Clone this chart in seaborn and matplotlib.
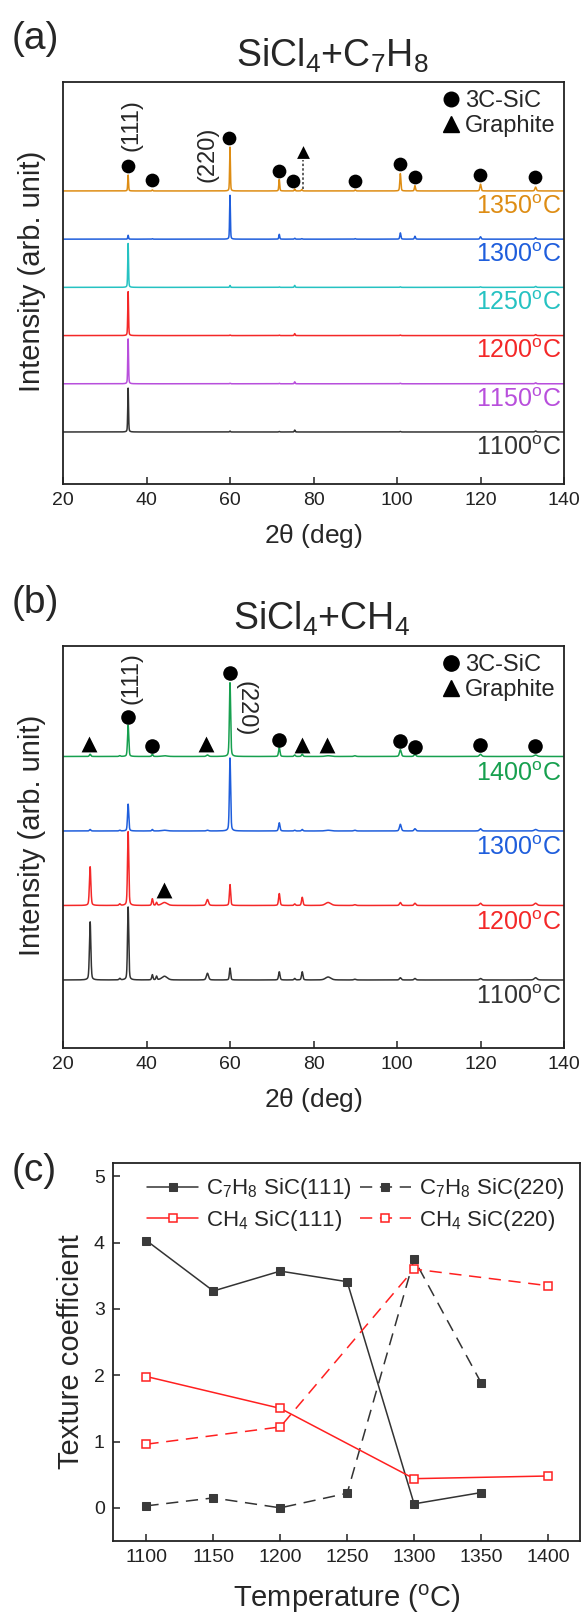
import numpy as np
import matplotlib
matplotlib.use("Agg")
import matplotlib.pyplot as plt
import seaborn as sns
from matplotlib.lines import Line2D

sns.set_theme(style="ticks")
plt.rcParams["font.family"] = ["Liberation Sans", "DejaVu Sans"]
plt.rcParams["mathtext.fontset"] = "custom"
plt.rcParams["mathtext.rm"] = "Liberation Sans"
plt.rcParams["mathtext.it"] = "Liberation Sans"
plt.rcParams["mathtext.bf"] = "Liberation Sans:bold"
plt.rcParams["mathtext.default"] = "regular"

# ---------------- data ----------------
# Panel (a): SiCl4 + C7H8, peak list (2theta, deg) and heights per temperature
temps_a = ["1100", "1150", "1200", "1250", "1300", "1350"]
colors_a = ["#333333", "#b84fdc", "#f42828", "#26c2c2", "#1f5edc", "#de8d14"]
peaks_a_pos = [35.6, 41.4, 60.0, 71.8, 75.5, 77.2, 90.0, 100.8, 104.3, 120.0, 133.2]
peaks_a_wid = [0.22, 0.25, 0.22, 0.25, 0.25, 0.3, 0.3, 0.3, 0.3, 0.35, 0.4]
heights_1100_a = [0.91, 0.00, 0.02, 0.01, 0.04, 0.00, 0.00, 0.01, 0.00, 0.00, 0.02]
heights_1150_a = [0.93, 0.00, 0.01, 0.01, 0.04, 0.00, 0.00, 0.01, 0.00, 0.00, 0.02]
heights_1200_a = [0.91, 0.00, 0.01, 0.01, 0.04, 0.00, 0.00, 0.01, 0.00, 0.00, 0.02]
heights_1250_a = [0.91, 0.00, 0.04, 0.01, 0.04, 0.00, 0.00, 0.01, 0.00, 0.01, 0.02]
heights_1300_a = [0.08, 0.01, 0.91, 0.10, 0.02, 0.01, 0.01, 0.13, 0.06, 0.05, 0.03]
heights_1350_a = [0.33, 0.02, 0.91, 0.24, 0.04, 0.03, 0.02, 0.36, 0.11, 0.14, 0.08]
heights_a = [heights_1100_a, heights_1150_a, heights_1200_a,
             heights_1250_a, heights_1300_a, heights_1350_a]
sic_a_x = [35.6, 41.3, 59.8, 71.7, 75.2, 89.9, 100.8, 104.4, 119.8, 133.1]
sic_a_y = [5.52, 5.23, 6.10, 5.41, 5.21, 5.21, 5.56, 5.29, 5.33, 5.29]
graphite_a_x = [77.4]
graphite_a_y = [5.80]
graphite_a_guide_y = [5.05, 5.64]

# Panel (b): SiCl4 + CH4
temps_b = ["1100", "1200", "1300", "1400"]
colors_b = ["#333333", "#f42828", "#1f5edc", "#17a04f"]
peaks_b_pos = [26.5, 33.6, 35.6, 41.4, 42.4, 44.3, 54.6, 60.0, 71.8, 75.5,
               77.3, 83.5, 89.9, 100.8, 104.3, 120.0, 133.2]
peaks_b_wid = [0.4, 0.4, 0.35, 0.35, 0.35, 1.5, 0.6, 0.35, 0.4, 0.4,
               0.4, 1.5, 0.6, 0.5, 0.5, 0.6, 0.8]
heights_1100_b = [0.78, 0.02, 0.98, 0.07, 0.05, 0.05, 0.09, 0.16, 0.11, 0.02,
                  0.11, 0.04, 0.01, 0.03, 0.02, 0.02, 0.03]
heights_1200_b = [0.52, 0.02, 0.99, 0.09, 0.04, 0.04, 0.08, 0.28, 0.16, 0.02,
                  0.11, 0.04, 0.01, 0.04, 0.03, 0.03, 0.03]
heights_1300_b = [0.02, 0.01, 0.36, 0.02, 0.00, 0.01, 0.01, 0.98, 0.11, 0.01,
                  0.02, 0.01, 0.01, 0.09, 0.03, 0.03, 0.02]
heights_1400_b = [0.03, 0.01, 0.42, 0.03, 0.00, 0.01, 0.02, 0.99, 0.12, 0.02,
                  0.03, 0.01, 0.01, 0.09, 0.03, 0.03, 0.02]
heights_b = [heights_1100_b, heights_1200_b, heights_1300_b, heights_1400_b]
sic_b_x = [35.6, 41.4, 60.0, 71.8, 100.8, 104.4, 119.8, 133.1]
sic_b_y = [3.53, 3.14, 4.12, 3.22, 3.21, 3.13, 3.15, 3.14]
graphite_b_x = [26.3, 54.3, 77.3, 83.3, 44.1]
graphite_b_y = [3.17, 3.17, 3.15, 3.15, 1.21]

# Panel (c): texture coefficients
temp_c7h8 = [1100, 1150, 1200, 1250, 1300, 1350]
tc_c7h8_111 = [4.03, 3.27, 3.57, 3.41, 0.06, 0.23]
tc_c7h8_220 = [0.03, 0.15, 0.00, 0.22, 3.75, 1.89]
temp_ch4 = [1100, 1200, 1300, 1400]
tc_ch4_111 = [1.98, 1.50, 0.44, 0.48]
tc_ch4_220 = [0.96, 1.22, 3.60, 3.35]

xticks_xrd = [20, 40, 60, 80, 100, 120, 140]
xticks_c = [1100, 1150, 1200, 1250, 1300, 1350, 1400]
yticks_c = [0, 1, 2, 3, 4, 5]

# ---------------- helpers ----------------
W, H = 583, 1614
fig = plt.figure(figsize=(W / 100, H / 100), dpi=100)


def add_ax(l, t, r, b):
    return fig.add_axes([l / W, 1 - b / H, (r - l) / W, (b - t) / H])


tth = np.linspace(20, 140, 6001)


def pattern(pos, hgt, wid):
    y = np.zeros_like(tth)
    for p, h, w in zip(pos, hgt, wid):
        d = (tth - p) / w
        y += h * (0.65 * np.exp(-4 * np.log(2) * d ** 2) + 0.35 / (1 + 4 * d ** 2))
    return y


def style_xrd(ax, ylim):
    ax.set_xlim(20, 140)
    ax.set_ylim(*ylim)
    ax.set_xticks(xticks_xrd)
    ax.set_yticks([])
    ax.tick_params(axis="x", direction="in", length=5, width=1.1, pad=6,
                   labelsize=14, colors="#222222")
    for s in ax.spines.values():
        s.set_linewidth(1.3)
        s.set_color("#222222")
    ax.set_xlabel(r"2$\theta$ (deg)", fontsize=19, labelpad=9)
    ax.set_ylabel("Intensity (arb. unit)", fontsize=21, labelpad=12)
    ax.yaxis.label.set_y(0.53)


def xrd_legend(ax, ms_c, ms_t):
    handles = [
        Line2D([], [], ls="none", marker="o", ms=ms_c, color="black", label="3C-SiC"),
        Line2D([], [], ls="none", marker="^", ms=ms_t, color="black", label="Graphite"),
    ]
    ax.legend(handles=handles, loc="upper right", frameon=False, fontsize=17,
              handlelength=0.7, handletextpad=0.25, labelspacing=0.12,
              borderaxespad=0.15, borderpad=0.2)


# ---------------- panel (a) ----------------
axa = add_ax(63, 82, 564, 484)
for i, (t, c, h) in enumerate(zip(temps_a, colors_a, heights_a)):
    sns.lineplot(x=tth, y=pattern(peaks_a_pos, h, peaks_a_wid) + i, ax=axa,
                 color=c, lw=1.1, estimator=None, sort=False)
    axa.text(139.4, i - 0.33, t + r"$^{o}$C", ha="right", va="center",
             color=c, fontsize=18)
sns.scatterplot(x=sic_a_x, y=sic_a_y, ax=axa, marker="o", s=98, color="black",
                linewidth=0, zorder=5)
sns.scatterplot(x=graphite_a_x, y=graphite_a_y, ax=axa, marker="^", s=85,
                color="black", linewidth=0, zorder=5)
axa.plot([graphite_a_x[0]] * 2, graphite_a_guide_y, ls=(0, (1.6, 1.4)),
         color="#333333", lw=1.1)
axa.text(36.5, 6.37, "(111)", rotation=90, ha="center", va="center", fontsize=17)
axa.text(54.5, 5.75, "(220)", rotation=90, ha="center", va="center", fontsize=17)
style_xrd(axa, (-1.079, 7.26))
xrd_legend(axa, 10.5, 11)
fig.text(12 / W, 1 - 39 / H, "(a)", fontsize=28, ha="left", va="center")
fig.text(332 / W, 1 - 67 / H, r"SiCl$_4$+C$_7$H$_8$", fontsize=27,
         ha="center", va="baseline")

# ---------------- panel (b) ----------------
axb = add_ax(63, 646, 564, 1048)
for i, (t, c, h) in enumerate(zip(temps_b, colors_b, heights_b)):
    sns.lineplot(x=tth, y=pattern(peaks_b_pos, h, peaks_b_wid) + i, ax=axb,
                 color=c, lw=1.1, estimator=None, sort=False)
    axb.text(139.4, i - 0.23, t + r"$^{o}$C", ha="right", va="center",
             color=c, fontsize=18)
sns.scatterplot(x=sic_b_x, y=sic_b_y, ax=axb, marker="o", s=110, color="black",
                linewidth=0, zorder=5)
sns.scatterplot(x=graphite_b_x, y=graphite_b_y, ax=axb, marker="^", s=130,
                color="black", linewidth=0, zorder=5)
axb.text(36.5, 4.05, "(111)", rotation=90, ha="center", va="center", fontsize=17)
axb.text(63.6, 3.64, "(220)", rotation=270, ha="center", va="center", fontsize=17)
style_xrd(axb, (-0.913, 4.483))
xrd_legend(axb, 11, 12)
fig.text(12 / W, 1 - 603 / H, "(b)", fontsize=28, ha="left", va="center")
fig.text(322 / W, 1 - 630 / H, r"SiCl$_4$+CH$_4$", fontsize=27,
         ha="center", va="baseline")

# ---------------- panel (c) ----------------
axc = add_ax(113, 1163, 580, 1541)
blk = "#333333"
red = "#ff2020"
dash = (0, (8, 5))
sns.lineplot(x=temp_c7h8, y=tc_c7h8_111, ax=axc, color=blk, lw=1.1, marker="s",
             ms=5.5, mfc="#3a3a3a", mec="#3a3a3a", label=r"C$_7$H$_8$ SiC(111)")
sns.lineplot(x=temp_c7h8, y=tc_c7h8_220, ax=axc, color=blk, lw=1.1, marker="s",
             ms=5.5, mfc="#3a3a3a", mec="#3a3a3a", linestyle=dash,
             label=r"C$_7$H$_8$ SiC(220)")
sns.lineplot(x=temp_ch4, y=tc_ch4_111, ax=axc, color=red, lw=1.1, marker="s",
             ms=5.5, mfc="white", mec=red, mew=1.1, label=r"CH$_4$ SiC(111)")
sns.lineplot(x=temp_ch4, y=tc_ch4_220, ax=axc, color=red, lw=1.1, marker="s",
             ms=5.5, mfc="white", mec=red, mew=1.1, linestyle=dash,
             label=r"CH$_4$ SiC(220)")
axc.set_xlim(1075, 1424)
axc.set_ylim(-0.5, 5.2)
axc.set_xticks(xticks_c)
axc.set_yticks(yticks_c)
axc.tick_params(direction="in", length=5, width=1.1, pad=6, labelsize=14,
                colors="#222222")
for s in axc.spines.values():
    s.set_linewidth(1.3)
    s.set_color("#222222")
axc.set_xlabel(r"Temperature ($^{o}$C)", fontsize=21, labelpad=12)
axc.set_ylabel("Texture coefficient", fontsize=21, labelpad=6)
h_, l_ = axc.get_legend_handles_labels()
order = [0, 2, 1, 3]
axc.legend([h_[k] for k in order], [l_[k] for k in order], ncol=2,
           loc="upper left", bbox_to_anchor=(0.045, 1.0), frameon=False,
           fontsize=16, handlelength=2.3, handletextpad=0.35,
           columnspacing=0.35, labelspacing=0.3, borderaxespad=0.2)
fig.text(12 / W, 1 - 1171 / H, "(c)", fontsize=28, ha="left", va="center")

fig.savefig("out.png", dpi=100)
